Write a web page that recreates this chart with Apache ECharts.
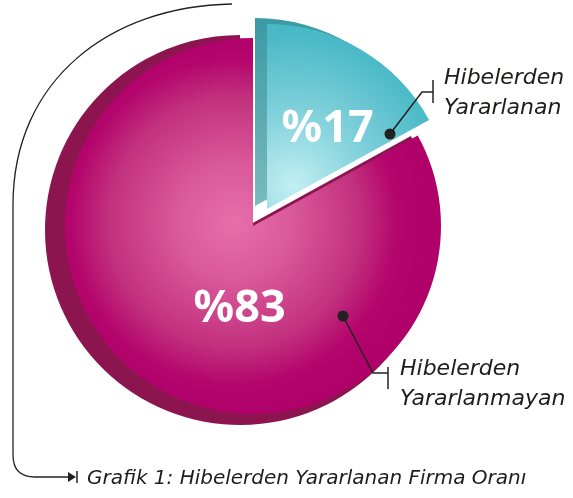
<!DOCTYPE html>
<html>
<head>
<meta charset="utf-8">
<script src="https://cdn.jsdelivr.net/npm/echarts@6/dist/echarts.min.js"></script>
<style>
    html, body { margin: 0; padding: 0; background: #fff; }
    #chart { width: 573px; height: 498px; }
</style>
</head>
<body>
<div id="chart"></div>
<script>
// veriler
const categories = ["Hibelerden Yararlanan", "Hibelerden Yararlanmayan"]
const shares = [17, 83]
const caption = "Grafik 1: Hibelerden Yararlanan Firma Oranı"

const none = "rgba(0,0,0,0)"
const textFont = "DejaVu Sans"

// pasta dilimleri (boş olanlar şeffaf)
function pieData(colors, labels) {
    return categories.map(function (name, i) {
        return {
            name: name,
            value: shares[i],
            itemStyle: { color: colors[i] || none },
            label: labels[i] || { show: false }
        }
    })
}

const nameLabel = {
    show: true,
    position: "outside",
    formatter: function (p) { return p.name.replace(" ", "\n") },
    fontFamily: textFont,
    fontStyle: "italic",
    fontSize: 22,
    lineHeight: 30,
    color: "#1d1d1b"
}
const pctLabel = {
    show: true,
    position: "inside",
    formatter: function (p) { return "%" + p.value },
    fontFamily: "Noto Sans",
    fontWeight: "bold",
    fontSize: 45,
    color: "#fff"
}

const magentaFace = {
    type: "radial", x: 234, y: 222, r: 192, global: true,
    colorStops: [
        { offset: 0, color: "#e76eab" },
        { offset: 0.3, color: "#da599b" },
        { offset: 0.65, color: "#c2317e" },
        { offset: 0.85, color: "#b4056c" },
        { offset: 1, color: "#b0006a" }
    ]
}
const cyanFace = {
    type: "radial", x: 293, y: 185, r: 150, global: true,
    colorStops: [
        { offset: 0, color: "#c2eff3" },
        { offset: 0.45, color: "#86d3dc" },
        { offset: 1, color: "#4ab9c7" }
    ]
}
const cyanSide = {
    type: "linear", x: 0, y: 0, x2: 0, y2: 1,
    colorStops: [
        { offset: 0, color: "#3a9aa4" },
        { offset: 1, color: "#7bbabe" }
    ]
}

const base = {
    type: "pie",
    startAngle: 90,
    silent: true,
    avoidLabelOverlap: false,
    labelLine: { show: false },
    itemStyle: { borderWidth: 0 },
    emphasis: { disabled: true }
}

const ink = { stroke: "#222", lineWidth: 1.5, fill: null }
const thin = { stroke: "#222", lineWidth: 1.3, fill: null }

let myChart = echarts.init(document.getElementById("chart"))
let option = {
    animation: false,
    title: {
        text: caption,
        left: 87,
        top: 469,
        padding: 0,
        textStyle: {
            fontFamily: textFont,
            fontStyle: "italic",
            fontWeight: "normal",
            fontSize: 20,
            color: "#1d1d1b"
        }
    },
    series: [
        Object.assign({}, base, {
            center: [240, 230], radius: 195,
            data: pieData([null, "#8c1550"], [null, nameLabel]),
            labelLayout: { x: 400, y: 354, align: "left", verticalAlign: "top" }
        }),
        Object.assign({}, base, {
            center: [253, 226], radius: 188,
            data: pieData([null, magentaFace], [null, pctLabel]),
            labelLayout: { dx: 36, dy: 0 }
        }),
        Object.assign({}, base, {
            center: [255, 206], radius: 188,
            data: pieData([cyanSide, null], [nameLabel, null]),
            labelLayout: { x: 444, y: 63, align: "left", verticalAlign: "top" }
        }),
        Object.assign({}, base, {
            center: [267, 209], radius: 185,
            data: pieData([cyanFace, null], [pctLabel, null]),
            labelLayout: { dx: 12, dy: 2 }
        })
    ],
    graphic: [
        // etiket çizgileri
        { type: "polyline", z: 10, shape: { points: [[390, 134], [422, 92], [433, 92]] }, style: ink },
        { type: "line", z: 10, shape: { x1: 433, y1: 80, x2: 433, y2: 103 }, style: ink },
        { type: "circle", z: 10, shape: { cx: 390, cy: 134, r: 5.5 }, style: { fill: "#222" } },
        { type: "polyline", z: 10, shape: { points: [[343, 316], [373, 373], [388, 373]] }, style: ink },
        { type: "line", z: 10, shape: { x1: 388, y1: 367, x2: 388, y2: 389 }, style: ink },
        { type: "circle", z: 10, shape: { cx: 343, cy: 316, r: 5.5 }, style: { fill: "#222" } },
        // başlık oku
        { type: "bezierCurve", z: 10, shape: { x1: 232, y1: 4, cpx1: 110, cpy1: 6, cpx2: 13, cpy2: 80, x2: 13, y2: 205 }, style: thin },
        { type: "line", z: 10, shape: { x1: 13, y1: 205, x2: 13, y2: 455 }, style: thin },
        { type: "bezierCurve", z: 10, shape: { x1: 13, y1: 455, cpx1: 13, cpy1: 477, x2: 35, y2: 477 }, style: thin },
        { type: "line", z: 10, shape: { x1: 35, y1: 477, x2: 70, y2: 477 }, style: thin },
        { type: "polygon", z: 10, shape: { points: [[68, 472], [76, 477], [68, 482]] }, style: { fill: "#222" } },
        { type: "line", z: 10, shape: { x1: 77, y1: 471, x2: 77, y2: 483 }, style: ink }
    ]
}
myChart.setOption(option)
window.addEventListener("resize", function () {
    myChart.resize()
})
</script>
</body>
</html>
